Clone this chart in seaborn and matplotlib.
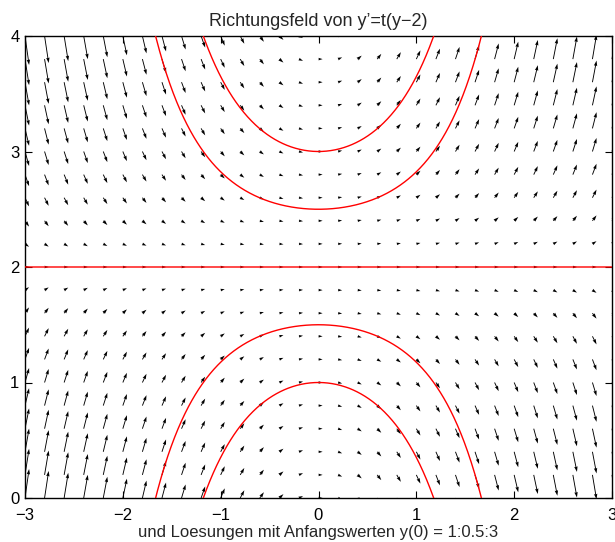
import numpy as np
import pandas as pd
import matplotlib
matplotlib.use("Agg")
import matplotlib.pyplot as plt
import seaborn as sns

# grid of the direction field (t = -3:0.2:3, y = 0:0.2:4)
t_grid = [-3.0, -2.8, -2.6, -2.4, -2.2, -2.0, -1.8, -1.6, -1.4, -1.2, -1.0,
          -0.8, -0.6, -0.4, -0.2, 0.0, 0.2, 0.4, 0.6, 0.8, 1.0, 1.2, 1.4,
          1.6, 1.8, 2.0, 2.2, 2.4, 2.6, 2.8, 3.0]
y_grid = [0.0, 0.2, 0.4, 0.6, 0.8, 1.0, 1.2, 1.4, 1.6, 1.8, 2.0, 2.2, 2.4,
          2.6, 2.8, 3.0, 3.2, 3.4, 3.6, 3.8, 4.0]
# initial values y(0) = 1:0.5:3
y0_values = [1.0, 1.5, 2.0, 2.5, 3.0]
x_ticks = [-3, -2, -1, 0, 1, 2, 3]
y_ticks = [0, 1, 2, 3, 4]
title = "Richtungsfeld von y\u2019=t(y\u22122)"
xlabel = "und Loesungen mit Anfangswerten y(0) = 1:0.5:3"

sns.set_theme(style="ticks")
plt.rcParams['font.family'] = ['Liberation Sans', 'DejaVu Sans']
plt.rcParams['axes.unicode_minus'] = True

fig = plt.figure(figsize=(6.15, 5.42), dpi=100)
ax = fig.add_axes([25/615, 1-498/542, (612-25)/615, (498-36)/542])

# direction field of y' = t (y - 2)
T, Y = np.meshgrid(np.array(t_grid), np.array(y_grid))
U = np.ones_like(T)
V = T * (Y - 2.0)

# MATLAB-like autoscaling
n = np.sqrt(T.size)
delx = (T.max() - T.min()) / n
dely = (Y.max() - Y.min()) / n
dl = delx**2 + dely**2
maxlen = np.sqrt((U**2 + V**2) / dl).max()
auto = 0.9 / maxlen

ax.quiver(T, Y, U * auto, V * auto, angles='xy', scale_units='xy', scale=1,
          units='dots', width=0.9, headlength=6, headaxislength=5.5,
          headwidth=3.8, color='black', linewidth=0, zorder=2)

# solution curves
t_fine = np.linspace(-3, 3, 1201)
rows = []
for y0 in y0_values:
    yy = 2.0 + (y0 - 2.0) * np.exp(t_fine**2 / 2.0)
    rows.append(pd.DataFrame({"t": t_fine, "y": yy, "y0": y0}))
curves = pd.concat(rows, ignore_index=True)
for y0, g in curves.groupby("y0"):
    sns.lineplot(data=g, x="t", y="y", sort=False, estimator=None,
                 color='red', linewidth=1.0, ax=ax, zorder=3)

ax.set_xlim(-3, 3)
ax.set_ylim(0, 4)
ax.set_xticks(x_ticks)
ax.set_yticks(y_ticks)
ax.set_xticklabels([("\u2212%d" % -v) if v < 0 else str(v) for v in x_ticks])
ax.set_yticklabels([str(v) for v in y_ticks])
ax.tick_params(direction='in', length=5, width=0.8, top=True, right=True,
               labelsize=12, colors='black')
ax.tick_params(axis='x', pad=7)
ax.tick_params(axis='y', pad=4)
for s in ax.spines.values():
    s.set_visible(True)
    s.set_color('black')
    s.set_linewidth(1.0)
ax.set_title(title, fontsize=13, pad=7)
ax.set_xlabel(xlabel, fontsize=12, labelpad=2)
ax.set_ylabel("")

fig.savefig("out.png", dpi=100)
